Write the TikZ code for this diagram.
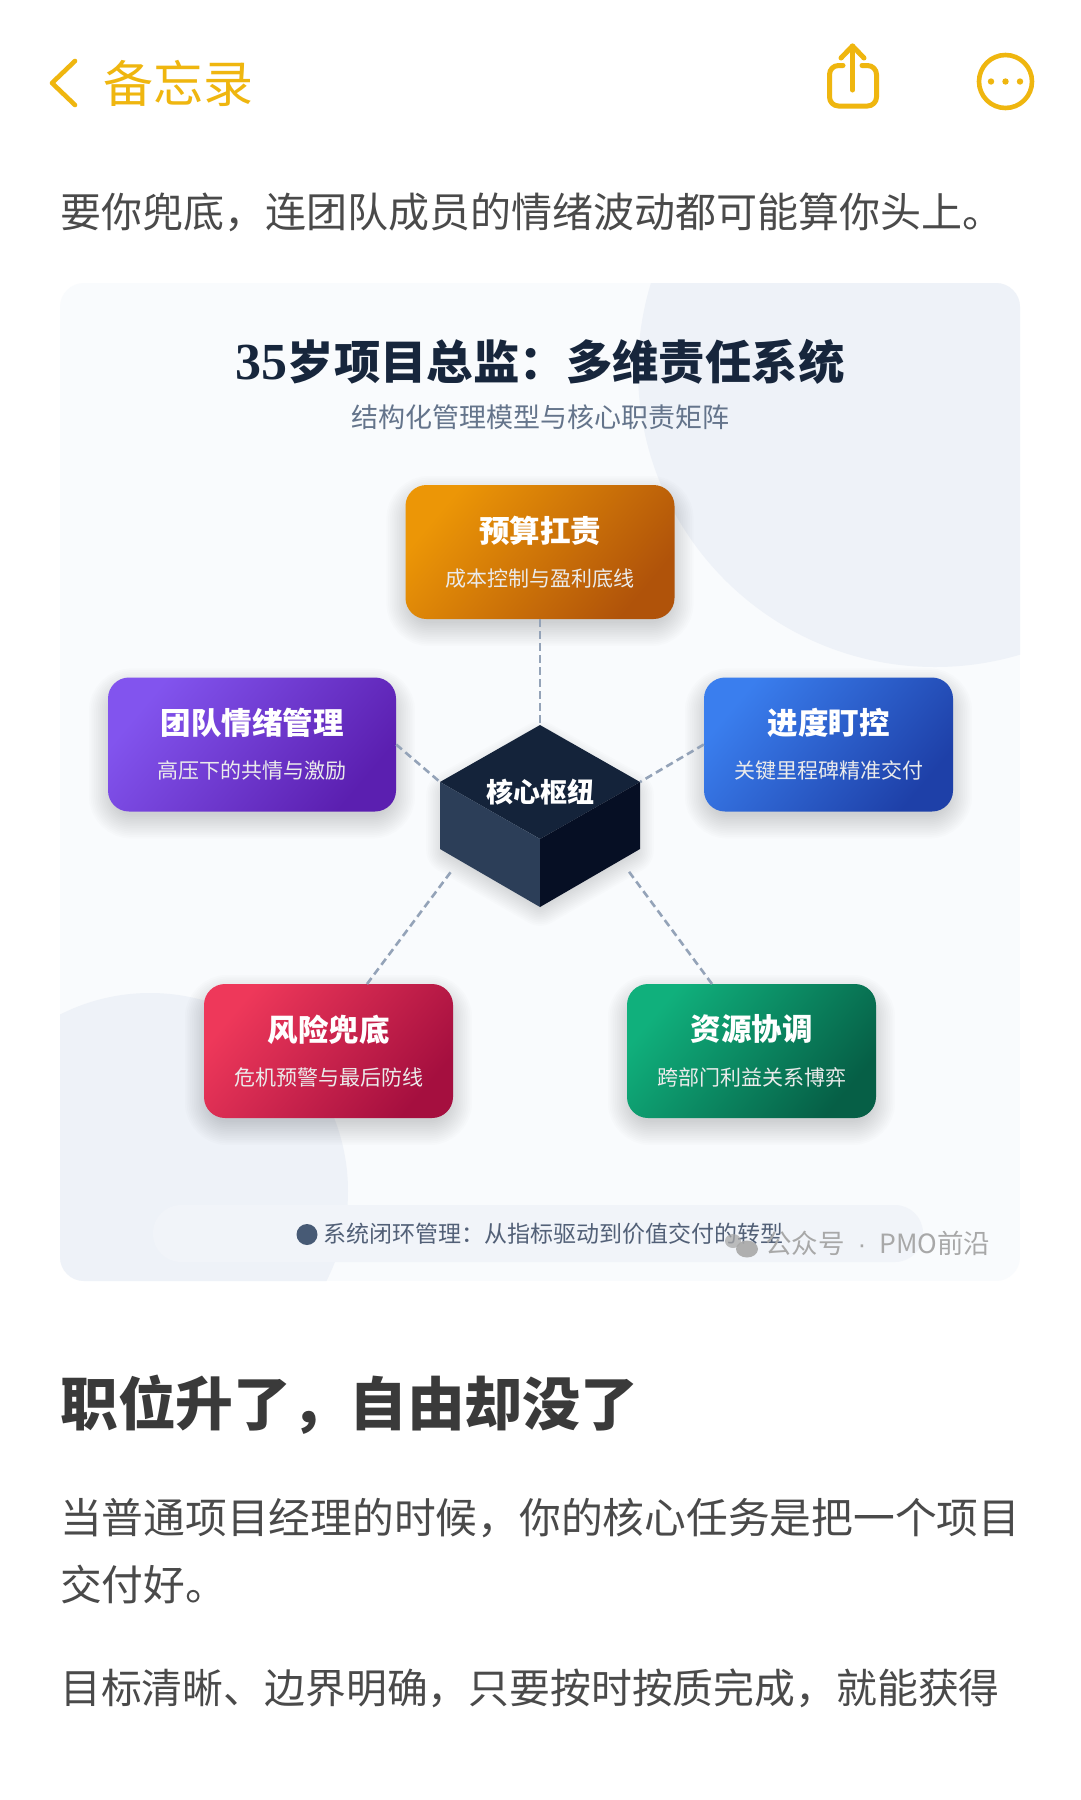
\documentclass[tikz,border=0pt]{standalone}
\usepackage{fontspec}
\setmainfont{Noto Sans CJK SC}
\newfontfamily\numserif{Liberation Serif}
\newfontfamily\latinsans{Liberation Sans}
\definecolor{notesyellow}{HTML}{EFB60F}
\definecolor{bodygrey}{HTML}{4A4A4A}
\definecolor{headgrey}{HTML}{3A3A3A}
\definecolor{cardbg}{HTML}{F9FBFD}
\definecolor{cardblob}{HTML}{EEF2F8}
\definecolor{pillbg}{HTML}{F1F4F9}
\definecolor{titleink}{HTML}{17263C}
\definecolor{subink}{HTML}{64748B}
\definecolor{linkc}{HTML}{94A3B8}
\definecolor{cubetop}{HTML}{14233A}
\definecolor{cubeleft}{HTML}{2C3E58}
\definecolor{cuberight}{HTML}{060F24}
\definecolor{dotc}{HTML}{475A75}
\definecolor{barink}{HTML}{526077}
\definecolor{markgrey}{HTML}{A8A8A8}
\definecolor{oa}{HTML}{EC9606}\definecolor{ob}{HTML}{B0530A}
\definecolor{pa}{HTML}{8254EE}\definecolor{pb}{HTML}{5B1FB0}
\definecolor{ba}{HTML}{3A7EEE}\definecolor{bb}{HTML}{1E40A8}
\definecolor{ra}{HTML}{EE385A}\definecolor{rb}{HTML}{A50F3F}
\definecolor{ga}{HTML}{10B07C}\definecolor{gb}{HTML}{065F46}
\newcommand{\fs}[1]{\fontsize{#1}{#1}\selectfont}
\newcommand{\softshade}[4]{% cx cy w h
  \foreach \i in {1,...,14}{
    \draw[black,opacity=.013,line width=\i*3.6pt,rounded corners=18pt]
      (#1-#3/2+6,#2-#4/2+16) rectangle (#1+#3/2-6,#2+#4/2+2);
  }}
\newcommand{\duty}[7]{% name cx cy w colA colB contents
  \softshade{#2}{#3}{#4}{134}
  \node[dutybox,minimum width=#4pt,top color=#5,bottom color=#6,shading angle=50] (#1) at (#2,#3) {#7};
}
\newcommand{\dutytext}[2]{{\bfseries\fs{30.5}#1}\\[22.5pt]{\fs{21}\color{white!92!black}#2}}
\tikzset{
  dutybox/.style={rounded corners=21pt,minimum height=134pt,inner sep=0pt,text=white,align=center},
  linkline/.style={draw=linkc,line width=2.6pt,dash pattern=on 7.5pt off 4.5pt},
  bodyline/.style={anchor=west,inner sep=0pt,text=bodygrey,font=\fs{41}},
  navicon/.style={draw=notesyellow,line width=5pt,line cap=round,line join=round,fill=none},
}
\begin{document}
\begin{tikzpicture}[x=1pt,y=-1pt]
\useasboundingbox (0,0) rectangle (1080,1800);
\fill[white] (0,0) rectangle (1080,1800);

% top bar
\draw[navicon,line width=4.6pt] (75,61) -- (52,83) -- (75,105);
\node[anchor=center,inner sep=0pt,text=notesyellow,font=\fs{50}] (back) at (178,83) {备忘录};
\draw[navicon,rounded corners=9pt] (843,65.5) -- (829.5,65.5) -- (829.5,106) -- (876.5,106) -- (876.5,65.5) -- (862,65.5);
\draw[navicon] (852.5,90) -- (852.5,46);
\draw[navicon] (841,58) -- (852.5,46) -- (864,58);
\draw[navicon,line width=4.6pt] (1005.5,81.5) circle[radius=26.5];
\fill[notesyellow] (991,81.5) circle[radius=3.2] (1005.5,81.5) circle[radius=3.2] (1020,81.5) circle[radius=3.2];

\node[bodyline] (line0) at (60,212) {要你兜底，连团队成员的情绪波动都可能算你头上。};

% card
\begin{scope}
\clip[rounded corners=24pt] (60,283) rectangle (1020,1281);
\fill[cardbg] (60,283) rectangle (1020,1281);
\fill[cardblob] (935,370) circle[radius=297];
\fill[cardblob] (150,1191) circle[radius=198];
\end{scope}
\fill[pillbg,rounded corners=28pt] (153,1205) rectangle (923,1262);

\node[inner sep=0pt,text=titleink,font=\fs{46.4}\bfseries] (title) at (540,362) {{\numserif\bfseries\fs{52}35}岁项目总监：多维责任系统};
\node[inner sep=0pt,text=subink,font=\fs{27}] (subtitle) at (540,417) {结构化管理模型与核心职责矩阵};

% cube shadow
\foreach \i in {1,...,14}{
  \draw[black,opacity=.012,line width=\i*3.4pt,line join=round]
    (540,745) -- (630,795) -- (630,850) -- (540,902) -- (450,850) -- (450,795) -- cycle;
}
% cube
\coordinate (ct) at (540,725);
\coordinate (cl) at (440,782);
\coordinate (cr) at (640,782);
\coordinate (cm) at (540,839);
\coordinate (cbl) at (440,849);
\coordinate (cbr) at (640,849);
\coordinate (cb) at (540,907);
\fill[cubetop] (ct) -- (cr) -- (cm) -- (cl) -- cycle;
\fill[cubeleft] (cl) -- (cm) -- (cb) -- (cbl) -- cycle;
\fill[cuberight] (cr) -- (cbr) -- (cb) -- (cm) -- cycle;
\node[inner sep=0pt,text=white,font=\fs{27}\bfseries] (hub) at (540,792) {核心枢纽};

% duty boxes
\duty{budget}{540}{552}{269}{oa}{ob}{\dutytext{预算扛责}{成本控制与盈利底线}}
\duty{team}{252}{744.5}{288}{pa}{pb}{\dutytext{团队情绪管理}{高压下的共情与激励}}
\duty{sched}{828.5}{744.5}{249}{ba}{bb}{\dutytext{进度盯控}{关键里程碑精准交付}}
\duty{risk}{328.5}{1051}{249}{ra}{rb}{\dutytext{风险兜底}{危机预警与最后防线}}
\duty{res}{751.5}{1051}{249}{ga}{gb}{\dutytext{资源协调}{跨部门利益关系博弈}}

% connectors
\coordinate (riskend) at (367,984);
\coordinate (resend) at (712,984);
\coordinate (hubsw) at (453,869);
\coordinate (hubse) at (627,869);
\draw[linkline] (budget.south) -- (ct);
\draw[linkline] (team.east) -- (cl);
\draw[linkline] (sched.west) -- (cr);
\draw[linkline] (riskend) -- (hubsw);
\draw[linkline] (resend) -- (hubse);

% footer of the card
\fill[dotc] (307,1234.5) circle[radius=10.5];
\node[anchor=west,inner sep=0pt,text=barink,font=\fs{23}] (bar) at (323.5,1234) {系统闭环管理：从指标驱动到价值交付的转型};

% watermark
\fill[markgrey,opacity=.75] (733,1241) ellipse[x radius=8,y radius=7];
\fill[markgrey,opacity=.9] (747,1249) ellipse[x radius=11,y radius=8.5];
\node[anchor=west,inner sep=0pt,text=markgrey,font=\fs{26.5}] (mark) at (765,1243) {公众号\hspace{13pt}{\latinsans ·}\hspace{13pt}PMO前沿};

% article
\node[anchor=west,inner sep=0pt,text=headgrey,font=\fs{57.8}\bfseries] (head) at (60,1405) {职位升了，自由却没了};
\node[bodyline,font=\fs{41.75}] (line1) at (60,1518) {当普通项目经理的时候，你的核心任务是把一个项目};
\node[bodyline,font=\fs{41.75}] (line2) at (60,1584) {交付好。};
\node[bodyline,font=\fs{40.85}] (line3) at (60,1688) {目标清晰、边界明确，只要按时按质完成，就能获得};
\end{tikzpicture}
\end{document}
